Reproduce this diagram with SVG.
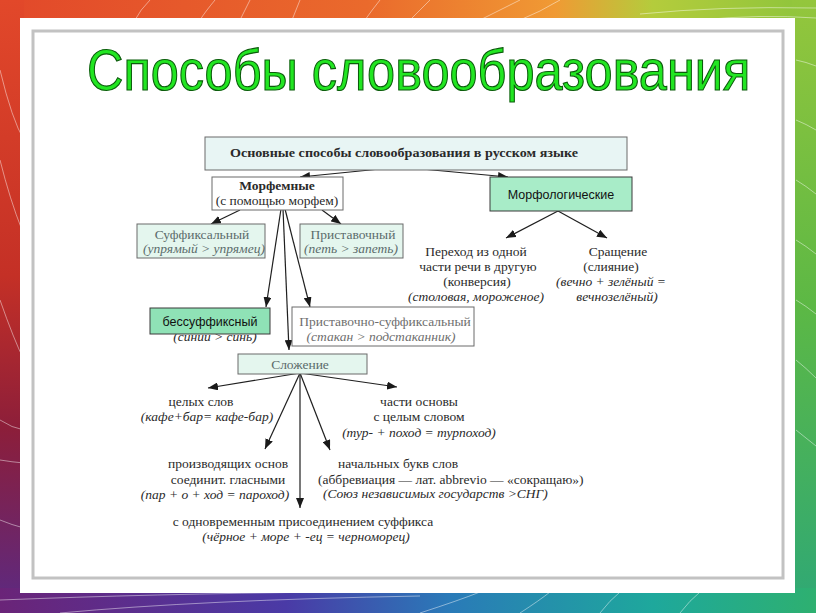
<svg xmlns="http://www.w3.org/2000/svg" width="816" height="613" viewBox="0 0 816 613">
<defs>
<linearGradient id="gTop" x1="0" y1="0" x2="1" y2="0">
<stop offset="0" stop-color="#e2482a"/><stop offset="0.45" stop-color="#ea6a2c"/><stop offset="0.68" stop-color="#f09a34"/><stop offset="0.8" stop-color="#b4cc3c"/><stop offset="1" stop-color="#8cc43c"/>
</linearGradient>
<linearGradient id="gLeft" x1="0" y1="0" x2="0" y2="1">
<stop offset="0" stop-color="#e2482a"/><stop offset="0.45" stop-color="#c43026"/><stop offset="0.7" stop-color="#8c1e3a"/><stop offset="1" stop-color="#5a2a84"/>
</linearGradient>
<linearGradient id="gRight" x1="0" y1="0" x2="0" y2="1">
<stop offset="0" stop-color="#94c63c"/><stop offset="0.5" stop-color="#5cb845"/><stop offset="1" stop-color="#2ea876"/>
</linearGradient>
<linearGradient id="gBot" x1="0" y1="0" x2="1" y2="0">
<stop offset="0" stop-color="#6a2478"/><stop offset="0.35" stop-color="#4a3aa6"/><stop offset="0.55" stop-color="#2a7ab8"/><stop offset="0.8" stop-color="#1ea89c"/><stop offset="1" stop-color="#2eb070"/>
</linearGradient>
<marker id="ah" markerUnits="userSpaceOnUse" markerWidth="10" markerHeight="8" refX="10" refY="4" orient="auto">
<path d="M0,0 L10,4 L0,8 z" fill="#1a1a1a"/>
</marker>
<style>
.t{font-family:"Liberation Serif","Times New Roman",serif;font-size:13.5px;fill:#2a2a2a}
.i{font-style:italic}
.c{text-anchor:middle}
.g{fill:#5b6b6b}
.s{font-family:"Liberation Sans",Arial,sans-serif;font-size:12.5px;fill:#111;text-anchor:middle}
.box{stroke:#6a6a6a;stroke-width:1}
.cn line{stroke:#1f1f1f;stroke-width:1.2;marker-end:url(#ah)}
.deco path{fill:none;stroke:#ffffff;stroke-opacity:0.45;stroke-width:1}
</style>
</defs>

<!-- background frame -->
<rect x="0" y="0" width="816" height="613" fill="url(#gTop)"/>
<rect x="0" y="0" width="24" height="613" fill="url(#gLeft)"/>
<rect x="792" y="0" width="24" height="613" fill="url(#gRight)"/>
<rect x="0" y="588" width="816" height="25" fill="url(#gBot)"/>
<g class="deco">
<path d="M150,0 Q140,10 135,20"/><path d="M215,0 Q205,12 200,20"/><path d="M250,0 Q245,10 240,20"/><path d="M300,0 Q296,10 292,20"/>
<path d="M380,0 Q372,10 365,20"/><path d="M430,0 Q420,10 410,20"/><path d="M520,0 Q500,10 480,20"/><path d="M560,0 Q540,12 520,20"/>
<path d="M640,14 Q720,6 816,8"/><path d="M700,20 Q760,14 816,18"/>
<path d="M0,70 Q12,120 24,140"/><path d="M0,160 Q10,200 22,230"/><path d="M0,300 Q14,340 24,360"/><path d="M0,420 Q12,428 24,430"/><path d="M0,460 Q12,462 24,463"/><path d="M0,520 Q12,525 24,528"/>
<path d="M796,60 Q806,62 816,66"/><path d="M796,120 Q806,124 816,130"/><path d="M796,180 Q806,186 816,194"/><path d="M796,240 Q806,246 816,254"/><path d="M796,300 Q806,306 816,314"/><path d="M796,360 Q806,368 816,378"/><path d="M796,430 Q806,438 816,446"/>
<path d="M0,600 Q150,594 330,592"/><path d="M60,613 Q200,600 420,596"/><path d="M420,613 Q460,600 480,592"/><path d="M520,613 Q540,600 550,592"/><path d="M600,613 Q610,600 620,592"/><path d="M680,613 Q690,600 700,592"/>
</g>

<!-- panel -->
<rect x="20" y="18" width="775" height="575" fill="#ffffff"/>
<rect x="33" y="31" width="750" height="547" fill="none" stroke="#c2c2c2" stroke-width="3"/>

<!-- title -->
<g id="title" transform="translate(87,90) scale(0.87,1)">
<text x="0" y="0" font-family="Liberation Sans, Arial, sans-serif" font-size="58" fill="#22e622" stroke="#0c5c0c" stroke-width="1.2">Способы словообразования</text>
</g>

<!-- connectors -->
<g id="connectors" class="cn">
<line x1="400" y1="167" x2="300" y2="177"/>
<line x1="400" y1="167" x2="508" y2="177"/>
<line x1="240" y1="210" x2="211" y2="224"/>
<line x1="322" y1="210" x2="341" y2="224"/>
<line x1="281" y1="209" x2="266" y2="307"/>
<line x1="283" y1="209" x2="289" y2="350"/>
<line x1="285" y1="209" x2="310" y2="307"/>
<line x1="558" y1="211" x2="506" y2="238"/>
<line x1="558" y1="211" x2="607" y2="238"/>
<line x1="300" y1="373" x2="208" y2="388"/>
<line x1="300" y1="373" x2="397" y2="387"/>
<line x1="300" y1="373" x2="265" y2="449"/>
<line x1="300" y1="373" x2="330" y2="450"/>
<line x1="300" y1="373" x2="300" y2="508"/>
</g>

<g id="n-main">
<rect class="box" x="205" y="137" width="422" height="33" fill="#e8f5f4"/>
<text class="t" x="230" y="157" font-weight="bold" textLength="348" lengthAdjust="spacingAndGlyphs">Основные способы словообразования в русском языке</text>
</g>

<g id="n-morfem">
<rect class="box" x="212" y="177" width="131" height="33" fill="#ffffff"/>
<text class="t c" x="277" y="190" font-weight="bold">Морфемные</text>
<text class="t c" x="277" y="205">(с помощью морфем)</text>
</g>

<g id="n-morfolog">
<rect x="490" y="177" width="142" height="34" fill="#a8ecc8" stroke="#3a3a3a" stroke-width="1"/>
<text class="s" x="561" y="199">Морфологические</text>
</g>

<g id="n-suff">
<rect class="box" x="137" y="224" width="128" height="34" fill="#e4f6ee"/>
<text class="t c g" x="202" y="239">Суффиксальный</text>
<text class="t c g i" x="204" y="253">(упрямый &gt; упрямец)</text>
</g>

<g id="n-prist">
<rect class="box" x="300" y="224" width="103" height="34" fill="#e4f6ee"/>
<text class="t c g" x="353" y="239">Приставочный</text>
<text class="t c g i" x="351" y="253">(петь &gt; запеть)</text>
</g>

<g id="n-bessuff">
<text class="t c i" x="215" y="341">(синий &gt; синь)</text>
<rect x="150" y="308" width="120" height="26" fill="#8fe2b6" stroke="#3a3a3a" stroke-width="1"/>
<text class="s" x="210" y="326" font-size="13">бессуффиксный</text>
</g>

<g id="n-pristsuff">
<rect class="box" x="292" y="307" width="182" height="39" fill="#ffffff"/>
<text class="t c" x="385" y="326" style="fill:#6e6e6e">Приставочно-суффиксальный</text>
<text class="t c i" x="381" y="341" style="fill:#6e6e6e">(стакан &gt; подстаканник)</text>
</g>

<g id="n-slozh">
<rect class="box" x="238" y="354" width="129" height="20" fill="#e4f6ee"/>
<text class="t c g" x="300" y="369">Сложение</text>
</g>

<g id="n-konv">
<text class="t c" x="476" y="256">Переход из одной</text>
<text class="t c" x="478" y="271">части речи в другую</text>
<text class="t c" x="477" y="286">(конверсия)</text>
<text class="t c i" x="476" y="301">(столовая, мороженое)</text>
</g>

<g id="n-sraschenie">
<text class="t c" x="618" y="256">Сращение</text>
<text class="t c" x="611" y="271">(слияние)</text>
<text class="t c i" x="611" y="286">(вечно + зелёный =</text>
<text class="t c i" x="617" y="301">вечнозелёный)</text>
</g>

<g id="n-celyh">
<text class="t c" x="201" y="406">целых слов</text>
<text class="t c i" x="207" y="421">(кафе+бар= кафе-бар)</text>
</g>

<g id="n-chasti">
<text class="t c" x="419" y="406">части основы</text>
<text class="t c" x="419" y="421">с целым словом</text>
<text class="t c i" x="419" y="437">(тур- + поход = турпоход)</text>
</g>

<g id="n-proizv">
<text class="t c" x="228" y="468">производящих основ</text>
<text class="t c" x="228" y="484">соединит. гласными</text>
<text class="t c i" x="215" y="499">(пар + о + ход = пароход)</text>
</g>

<g id="n-nach">
<text class="t" x="338" y="468">начальных букв слов</text>
<text class="t" x="318" y="484">(аббревиация — лат. abbrevio — «сокращаю»)</text>
<text class="t i" x="323" y="498">(Союз независимых государств &gt;СНГ)</text>
</g>

<g id="n-suffiks">
<text class="t c" x="303" y="526">с одновременным присоединением суффикса</text>
<text class="t c i" x="306" y="541">(чёрное + море + -ец = черноморец)</text>
</g>
</svg>
